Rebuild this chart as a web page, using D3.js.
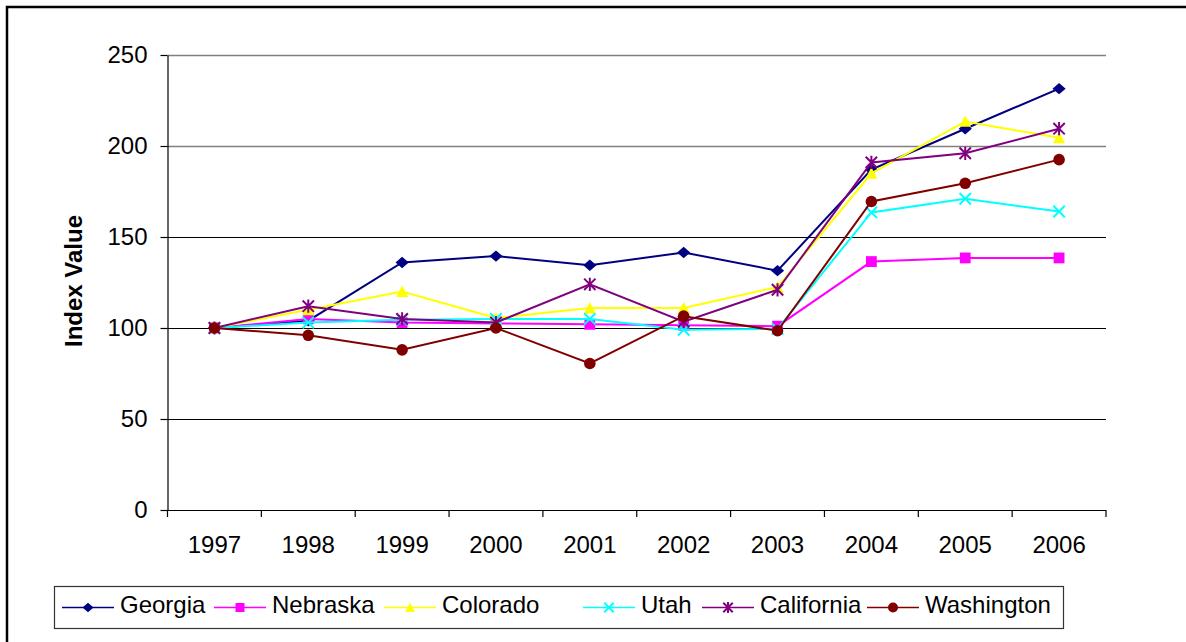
<!DOCTYPE html>
<html>
<head>
<meta charset="utf-8">
<script src="https://cdn.jsdelivr.net/npm/d3@7"></script>
<style>
  html, body { margin: 0; padding: 0; background: #fff; }
  svg { display: block; font-family: "Liberation Sans", Arial, sans-serif; }
</style>
</head>
<body>
<svg id="chart" width="1186" height="642"></svg>
<script>
// Index values by year, 1997 = 100
const years = ["1997","1998","1999","2000","2001","2002","2003","2004","2005","2006"];
const georgia    = [100, 104, 136, 139.5, 134.5, 141.5, 131.5, 187, 209.5, 231.5];
const nebraska   = [100, 105, 103, 102.5, 102, 101.5, 101, 136.5, 138.5, 138.5];
const colorado   = [100, 110, 120, 105.5, 111, 111, 122.5, 185, 213.5, 204.5];
const utah       = [100, 103, 104.5, 105, 105, 99, 99.5, 163.5, 171, 164];
const california = [100, 112, 105, 103, 124, 103.5, 121, 191, 196, 209.5];
const washington = [100, 96, 88, 100, 80.5, 106.5, 98.5, 169.5, 179.5, 192.5];
const yTicks = [0, 50, 100, 150, 200, 250];

const seriesList = [
  { name: "Georgia",    values: georgia,    color: "#000080", marker: "diamond" },
  { name: "Nebraska",   values: nebraska,   color: "#FF00FF", marker: "square" },
  { name: "Colorado",   values: colorado,   color: "#FFFF00", marker: "triangle" },
  { name: "Utah",       values: utah,       color: "#00FFFF", marker: "x" },
  { name: "California", values: california, color: "#800080", marker: "star" },
  { name: "Washington", values: washington, color: "#800000", marker: "circle" }
];

const FONT = 24;
const svg = d3.select("#chart");

// Outer frame
svg.append("rect")
  .attr("x", 7).attr("y", 7).attr("width", 1200).attr("height", 660)
  .attr("fill", "none").attr("stroke", "#000").attr("stroke-width", 2.5);

const plotLeft = 167.5, plotRight = 1106, plotTop = 55, plotBottom = 510;

const x = d3.scaleBand().domain(years).range([plotLeft, plotRight]);
const y = d3.scaleLinear().domain([0, 250]).range([plotBottom, plotTop]);

// Horizontal gridlines
svg.append("g").selectAll("line").data(yTicks.filter(d => d > 0)).join("line")
  .attr("x1", plotLeft).attr("x2", plotRight)
  .attr("y1", d => Math.round(y(d)) + 0.5).attr("y2", d => Math.round(y(d)) + 0.5)
  .attr("stroke", d => d >= 200 ? "#808080" : "#000")
  .attr("stroke-width", d => d >= 200 ? 1.6 : 1.2);

// Y axis
const yAxis = d3.axisLeft(y).tickValues(yTicks).tickSize(7).tickPadding(13).tickSizeOuter(0);
const gy = svg.append("g").attr("transform", `translate(${plotLeft},0)`).call(yAxis);
gy.select(".domain").attr("stroke", "#000").attr("stroke-width", 1.2);
gy.selectAll(".tick line").attr("stroke", "#000").attr("stroke-width", 1.2);
gy.selectAll(".tick text").attr("font-size", FONT).attr("fill", "#000")
  .attr("font-family", "'Liberation Sans', Arial, sans-serif");

// X axis: labels centred in bands, tick marks on band edges
const gx = svg.append("g").attr("transform", `translate(0,${plotBottom})`);
gx.append("line").attr("x1", plotLeft).attr("x2", plotRight).attr("y1", 0.5).attr("y2", 0.5)
  .attr("stroke", "#000").attr("stroke-width", 1.2);
const edges = years.map(d => x(d)).concat([plotRight]);
gx.selectAll("line.edge").data(edges).join("line").attr("class", "edge")
  .attr("x1", d => d).attr("x2", d => d).attr("y1", 0).attr("y2", 7)
  .attr("stroke", "#000").attr("stroke-width", 1.2);
gx.selectAll("text").data(years).join("text")
  .attr("x", d => x(d) + x.bandwidth() / 2).attr("y", 43)
  .attr("text-anchor", "middle").attr("font-size", FONT).attr("fill", "#000")
  .text(d => d);

// Axis title
svg.append("text")
  .attr("transform", `translate(82,281) rotate(-90)`)
  .attr("text-anchor", "middle").attr("font-size", FONT).attr("font-weight", "bold")
  .text("Index Value");

function drawMarker(g, type, color, cx, cy, s) {
  if (type === "diamond") {
    g.append("path").attr("d", `M${cx},${cy - s * 0.95}L${cx + s * 1.1},${cy}L${cx},${cy + s * 0.95}L${cx - s * 1.1},${cy}Z`)
      .attr("fill", color);
  } else if (type === "square") {
    g.append("rect").attr("x", cx - s * 0.9).attr("y", cy - s * 0.9)
      .attr("width", s * 1.8).attr("height", s * 1.8).attr("fill", color);
  } else if (type === "triangle") {
    g.append("path").attr("d", `M${cx},${cy - s}L${cx + s},${cy + s * 0.9}L${cx - s},${cy + s * 0.9}Z`)
      .attr("fill", color);
  } else if (type === "x") {
    const r = s * 0.95;
    g.append("path").attr("d", `M${cx - r},${cy - r}L${cx + r},${cy + r}M${cx - r},${cy + r}L${cx + r},${cy - r}`)
      .attr("stroke", color).attr("stroke-width", 2).attr("fill", "none");
  } else if (type === "star") {
    const r = s * 0.95;
    g.append("path").attr("d", `M${cx - r},${cy - r}L${cx + r},${cy + r}M${cx - r},${cy + r}L${cx + r},${cy - r}M${cx},${cy - s * 1.1}L${cx},${cy + s * 1.1}`)
      .attr("stroke", color).attr("stroke-width", 2).attr("fill", "none");
  } else if (type === "circle") {
    g.append("circle").attr("cx", cx).attr("cy", cy).attr("r", s).attr("fill", color);
  }
}

const line = d3.line()
  .x((d, i) => x(years[i]) + x.bandwidth() / 2)
  .y(d => y(d));

const plot = svg.append("g");
seriesList.forEach(s => {
  const g = plot.append("g");
  g.append("path").datum(s.values).attr("d", line)
    .attr("fill", "none").attr("stroke", s.color).attr("stroke-width", 2);
  s.values.forEach((v, i) => {
    drawMarker(g, s.marker, s.color, x(years[i]) + x.bandwidth() / 2, y(v), s.marker === "circle" ? 5.8 : 6);
  });
});

// Legend
const legend = svg.append("g");
legend.append("rect").attr("x", 54.5).attr("y", 586.5).attr("width", 1009).attr("height", 42)
  .attr("fill", "#fff").attr("stroke", "#333").attr("stroke-width", 1.2);
const legendX = [62, 214, 384, 583, 702, 867];
const ly = 607.5;
seriesList.forEach((s, i) => {
  const lx = legendX[i];
  const lg = legend.append("g");
  lg.append("line").attr("x1", lx).attr("x2", lx + 52).attr("y1", ly).attr("y2", ly)
    .attr("stroke", s.color).attr("stroke-width", 1.5);
  drawMarker(lg, s.marker, s.color, lx + 26, ly, 5);
  lg.append("text").attr("x", lx + 58).attr("y", ly + 5.5)
    .attr("font-size", FONT).attr("fill", "#000").text(s.name);
});
</script>
</body>
</html>
